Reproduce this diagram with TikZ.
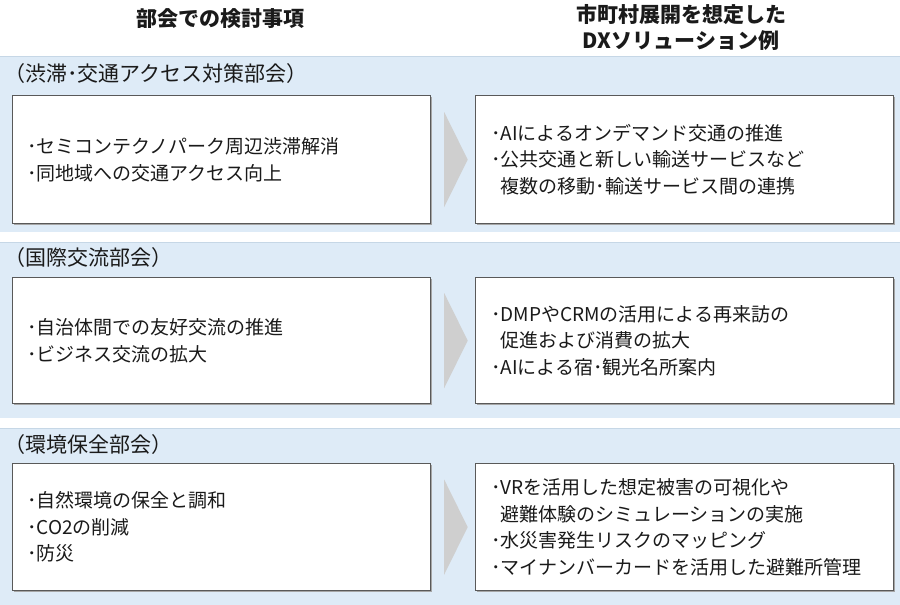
\documentclass[tikz,border=0pt]{standalone}
\usepackage{fontspec}
\setmainfont{Noto Sans CJK JP}
\definecolor{bandc}{HTML}{DEEBF7}
\definecolor{bandl}{HTML}{C6D7E6}
\definecolor{boxl}{HTML}{595959}
\definecolor{arrc}{HTML}{CFCFCF}
\definecolor{txtc}{HTML}{1A1A1A}
\tikzset{
 bandfill/.style={fill=bandc},
 bandedge/.style={draw=bandl, line width=1pt},
 box/.style={draw=boxl, fill=white, line width=1.2pt, minimum width=418pt, inner sep=0pt, anchor=north west},
 boxshadow/.style={fill=black!35},
 txt/.style={anchor=west, align=left, inner sep=0pt, font=\fontsize{19}{26.5}\selectfont, text=txtc},
 lab/.style={anchor=west, inner sep=0pt, font=\fontsize{21}{25}\selectfont, text=txtc},
 hdr/.style={font=\bfseries\fontsize{21}{26}\selectfont, align=center, inner sep=0pt, text=txtc},
 chev/.style={fill=arrc}
}
\begin{document}
\begin{tikzpicture}[x=1pt,y=-1pt]
\useasboundingbox (0,0) rectangle (900,605);
\fill[white] (0,0) rectangle (900,605);
% headers
\node[hdr] (h1) at (220,19) {部会での検討事項};
\node[hdr] (h2) at (681,27) {市町村展開を想定した\\DXソリューション例};
% bands
\fill[bandfill] (0,56) rectangle (900,232);
\draw[bandedge] (0,56) -- (900,56);
\fill[bandfill] (0,242) rectangle (900,418);
\draw[bandedge] (0,242) -- (900,242);
\fill[bandfill] (0,428) rectangle (900,605);
\draw[bandedge] (0,428) -- (900,428);
% band labels
\node[lab] (b1) at (4,74) {（渋滞･交通アクセス対策部会）};
\node[lab] (b2) at (4,258) {（国際交流部会）};
\node[lab] (b3) at (4,445) {（環境保全部会）};
% shadows
\fill[boxshadow] (13.5,96.5) rectangle (431.5,224.5);
\fill[boxshadow] (476.5,96.5) rectangle (894.5,224.5);
\fill[boxshadow] (13.5,278.5) rectangle (431.5,404.5);
\fill[boxshadow] (476.5,278.5) rectangle (894.5,404.5);
\fill[boxshadow] (13.5,464.5) rectangle (431.5,591.5);
\fill[boxshadow] (476.5,464.5) rectangle (894.5,591.5);
% boxes
\node[box, minimum height=128pt] (L1) at (12,95) {};
\node[box, minimum height=128pt] (R1) at (475,95) {};
\node[box, minimum height=126pt] (L2) at (12,277) {};
\node[box, minimum height=126pt] (R2) at (475,277) {};
\node[box, minimum height=127pt] (L3) at (12,463) {};
\node[box, minimum height=127pt] (R3) at (475,463) {};
% chevrons
\foreach \b in {L1,L2,L3}{
  \fill[chev] ([xshift=13pt,yshift=47.5pt]\b.east) -- ([xshift=36.5pt]\b.east) -- ([xshift=13pt,yshift=-47.5pt]\b.east) -- cycle;
}
% texts
\node[txt] (t1l) at ([xshift=15pt]L1.west) {･セミコンテクノパーク周辺渋滞解消\\･同地域への交通アクセス向上};
\node[txt] (t1r) at ([xshift=16pt]R1.west) {･AIによるオンデマンド交通の推進\\･公共交通と新しい輸送サービスなど\\\hspace*{0.5em}複数の移動･輸送サービス間の連携};
\node[txt] (t2l) at ([xshift=15pt]L2.west) {･自治体間での友好交流の推進\\･ビジネス交流の拡大};
\node[txt] (t2r) at ([xshift=16pt]R2.west) {･DMPやCRMの活用による再来訪の\\\hspace*{0.5em}促進および消費の拡大\\･AIによる宿･観光名所案内};
\node[txt] (t3l) at ([xshift=15pt]L3.west) {･自然環境の保全と調和\\･CO2の削減\\･防災};
\node[txt] (t3r) at ([xshift=16pt]R3.west) {･VRを活用した想定被害の可視化や\\\hspace*{0.5em}避難体験のシミュレーションの実施\\･水災害発生リスクのマッピング\\･マイナンバーカードを活用した避難所管理};
\end{tikzpicture}
\end{document}
